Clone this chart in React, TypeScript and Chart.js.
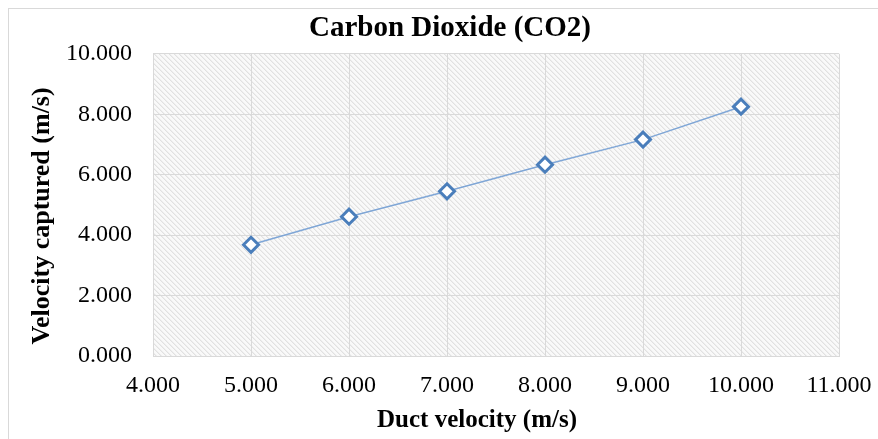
import React, { useEffect, useRef } from "react";
import { Chart, registerables } from "chart.js";

Chart.register(...registerables);

const TITLE = "Carbon Dioxide (CO2)";
const X_TITLE = "Duct velocity (m/s)";
const Y_TITLE = "Velocity captured (m/s)";

const ductVelocity = [5, 6, 7, 8, 9, 10];
const velocityCaptured = [3.68, 4.61, 5.45, 6.33, 7.16, 8.25];

const X_MIN = 4;
const X_MAX = 11;
const X_STEP = 1;
const Y_MIN = 0;
const Y_MAX = 10;
const Y_STEP = 2;

const FONT = "'Liberation Serif', 'Times New Roman', serif";
const W = 878;
const H = 439;

function makeHatch(ctx: CanvasRenderingContext2D) {
  const c = document.createElement("canvas");
  const n = 5;
  c.width = n;
  c.height = n;
  const g = c.getContext("2d")!;
  g.fillStyle = "#f9f9f9";
  g.fillRect(0, 0, n, n);
  for (let i = 0; i < n; i++) {
    g.fillStyle = "#e1e1e1";
    g.fillRect(i, i, 1, 1);
    g.fillStyle = "#eeeeee";
    g.fillRect((i + 1) % n, i, 1, 1);
  }
  return ctx.createPattern(c, "repeat");
}

const backgroundPlugin = {
  id: "bgHatch",
  beforeDraw(chart: any) {
    const { ctx, chartArea } = chart;
    ctx.save();
    ctx.fillStyle = "#ffffff";
    ctx.fillRect(0, 0, chart.width, chart.height);
    ctx.strokeStyle = "#d9d9d9";
    ctx.lineWidth = 1;
    ctx.strokeRect(8.5, 8.5, chart.width + 10, chart.height + 10);
    const pat = makeHatch(ctx);
    if (pat) {
      ctx.fillStyle = pat;
      ctx.fillRect(
        chartArea.left,
        chartArea.top,
        chartArea.right - chartArea.left,
        chartArea.bottom - chartArea.top
      );
    }
    ctx.restore();
  },
};

const axisTitlePlugin = {
  id: "axisTitles",
  afterDraw(chart: any) {
    const { ctx, chartArea } = chart;
    ctx.save();
    ctx.fillStyle = "#000000";
    ctx.textAlign = "center";
    ctx.textBaseline = "middle";
    ctx.font = `bold 25px ${FONT}`;
    ctx.fillText(X_TITLE, (chartArea.left + chartArea.right) / 2 - 19, chartArea.bottom + 65);
    ctx.translate(42, (chartArea.top + chartArea.bottom) / 2 + 11);
    ctx.rotate(-Math.PI / 2);
    ctx.font = `bold 26px ${FONT}`;
    ctx.fillText(Y_TITLE, 0, 0);
    ctx.restore();
  },
};

export default function App() {
  const ref = useRef<HTMLCanvasElement | null>(null);

  useEffect(() => {
    document.body.style.margin = "0";
    const canvas = ref.current;
    if (!canvas) return;
    const chart = new Chart(canvas, {
      type: "scatter",
      data: {
        datasets: [
          {
            label: "CO2",
            data: ductVelocity.map((x, i) => ({ x, y: velocityCaptured[i] })),
            showLine: true,
            borderColor: "#7fa6d6",
            borderWidth: 1.5,
            pointStyle: "rectRot",
            pointRadius: 7.5,
            pointHoverRadius: 7.5,
            pointBorderWidth: 3,
            pointBorderColor: "#4a7ebb",
            pointBackgroundColor: "#ffffff",
          },
        ],
      },
      options: {
        animation: false,
        responsive: false,
        events: [],
        layout: { padding: { left: 61, right: 39, top: 0, bottom: 0 } },
        plugins: {
          legend: { display: false },
          tooltip: { enabled: false },
          title: {
            display: true,
            text: TITLE,
            color: "#000000",
            font: { family: FONT, size: 29, weight: "bold", lineHeight: 1.2 },
            padding: { top: 11, bottom: 8 },
          },
        },
        scales: {
          x: {
            type: "linear",
            min: X_MIN,
            max: X_MAX,
            ticks: {
              stepSize: X_STEP,
              color: "#000000",
              font: { family: FONT, size: 24 },
              padding: 15,
              maxRotation: 0,
              callback: (v: any) => Number(v).toFixed(3),
            },
            grid: { color: "#d9d9d9", lineWidth: 1, drawTicks: false },
            border: { color: "#d9d9d9" },
            afterFit: (scale: any) => {
              scale.height = 83;
              scale.paddingLeft = 0;
              scale.paddingRight = 0;
            },
          },
          y: {
            type: "linear",
            min: Y_MIN,
            max: Y_MAX,
            ticks: {
              stepSize: Y_STEP,
              color: "#000000",
              font: { family: FONT, size: 24 },
              padding: 21,
              callback: (v: any) => Number(v).toFixed(3),
            },
            grid: { color: "#d9d9d9", lineWidth: 1, drawTicks: false },
            border: { color: "#d9d9d9" },
            afterFit: (scale: any) => {
              scale.width = 92;
              scale.paddingTop = 0;
              scale.paddingBottom = 0;
            },
          },
        },
      } as any,
      plugins: [backgroundPlugin, axisTitlePlugin],
    });
    return () => chart.destroy();
  }, []);

  return (
    <div style={{ position: "absolute", left: 0, top: 0, width: W, height: H }}>
      <canvas ref={ref} width={W} height={H} style={{ width: W, height: H }} />
    </div>
  );
}
